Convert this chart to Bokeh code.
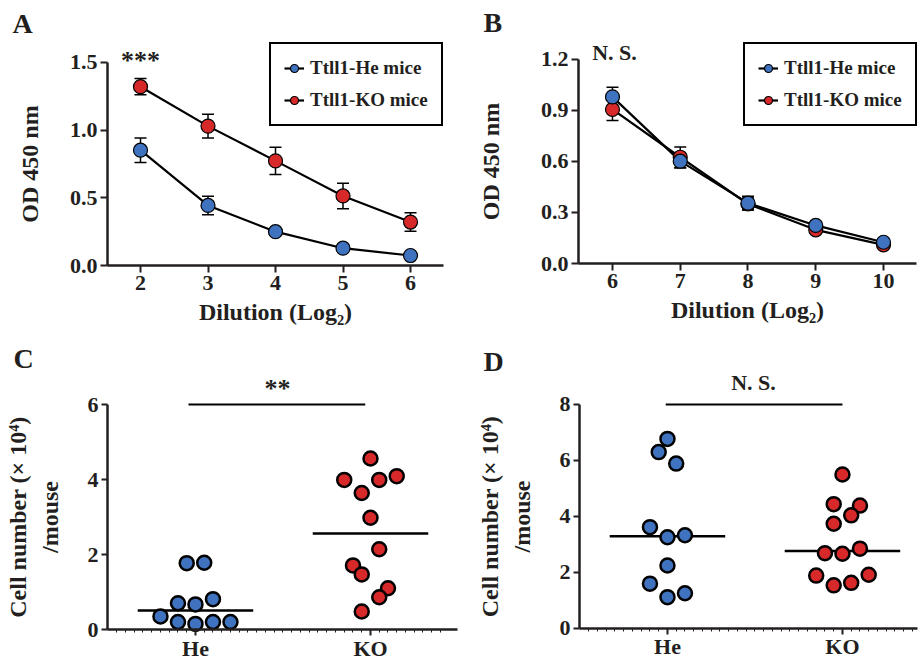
import numpy as np
from bokeh.plotting import figure
from bokeh.layouts import column, row
from bokeh.models import (ColumnDataSource, Whisker, TeeHead, Legend, LegendItem,
                          Label, FixedTicker, NumeralTickFormatter, Range1d)
from bokeh.embed import file_html
from bokeh.resources import INLINE

FONT = "Liberation Serif"
INK = "#231f20"
BLUE = "#3f73bf"
RED = "#d7292a"

# ---------------- data ----------------
# Panel A: ELISA, dilution 2..6 (log2)
dil_a = [2, 3, 4, 5, 6]
he_a = [0.852, 0.444, 0.250, 0.128, 0.074]
he_a_err = [0.090, 0.068, 0.015, 0.012, 0.010]
ko_a = [1.321, 1.030, 0.773, 0.514, 0.321]
ko_a_err = [0.060, 0.088, 0.100, 0.094, 0.068]

# Panel B: dilution 6..10 (log2)
dil_b = [6, 7, 8, 9, 10]
he_b = [0.980, 0.602, 0.355, 0.224, 0.125]
he_b_err = [0.057, 0.040, 0.040, 0.010, 0.008]
ko_b = [0.906, 0.625, 0.350, 0.198, 0.110]
ko_b_err = [0.065, 0.060, 0.035, 0.010, 0.008]

# Panel C: cell number (x10^4) / mouse
groups = ["He", "KO"]
he_c = [0.35, 0.70, 0.67, 0.81, 1.77, 1.78, 0.20, 0.15, 0.20, 0.20]
he_c_off = [-0.20, -0.10, 0.00, 0.10, -0.05, 0.05, -0.10, 0.00, 0.10, 0.20]
ko_c = [4.56, 3.99, 3.99, 4.09, 3.64, 2.98, 2.14, 1.71, 1.47, 1.10, 0.86, 0.48]
ko_c_off = [0.00, -0.15, 0.05, 0.15, -0.05, 0.00, 0.05, -0.10, -0.05, 0.10, 0.05, -0.05]

# Panel D
he_d = [6.77, 6.30, 5.89, 3.62, 3.26, 3.33, 2.25, 1.60, 1.12, 1.26]
he_d_off = [0.00, -0.05, 0.05, -0.10, 0.00, 0.10, 0.00, -0.10, 0.00, 0.10]
ko_d = [5.50, 4.44, 4.39, 4.04, 3.74, 2.69, 2.67, 2.85, 1.89, 1.54, 1.63, 1.92]
ko_d_off = [0.00, -0.05, 0.10, 0.05, -0.05, -0.10, 0.00, 0.10, -0.15, -0.05, 0.05, 0.15]

sig_a = "***"
sig_b = "N. S."
sig_c = "**"
sig_d = "N. S."
sig_span_c = (0.96, 1.97, 6.0)
sig_span_d = (0.99, 2.00, 8.0)

# ---------------- layout specs (page pixels) ----------------
SPEC = {
    "A": dict(fig=(0, 0, 468, 335), x=(-0.074, 6.859), y=(-0.517, 1.958),
              xaxis_at=0.0, yaxis_at=1.511, xbounds=(1.511, 6.489), ybounds=(0, 1.5)),
    "B": dict(fig=(468, 0, 452, 335), x=(3.875, 10.546), y=(-0.4235, 1.547),
              xaxis_at=0.0, yaxis_at=5.498, xbounds=(5.498, 10.487), ybounds=(0, 1.2)),
    "C": dict(fig=(0, 335, 468, 326), x=(-0.114, 2.560), y=(-0.853, 7.840),
              xaxis_at=0.0, yaxis_at=0.497, xbounds=(0.497, 2.497), ybounds=(0, 6)),
    "D": dict(fig=(468, 335, 452, 326), x=(-0.137, 2.446), y=(-1.179, 10.464),
              xaxis_at=0.0, yaxis_at=0.497, xbounds=(0.497, 2.429), ybounds=(0, 8)),
}
LABEL_SHIFT = 11  # px


def at(key, px, py):
    s = SPEC[key]
    fx, fy, w, h = s["fig"]
    x0, x1 = s["x"]
    y0, y1 = s["y"]
    return x0 + (px - fx) * (x1 - x0) / w, y1 - (py - fy) * (y1 - y0) / h


def make(key, ticks_x, ticks_y, xlabel, ylabel, tick_size):
    s = SPEC[key]
    fx, fy, w, h = s["fig"]
    p = figure(width=w, height=h, x_range=Range1d(*s["x"]), y_range=Range1d(*s["y"]),
               output_backend="svg", toolbar_location=None, title=None,
               min_border_left=0, min_border_right=0, min_border_top=0, min_border_bottom=0)
    p.outline_line_color = None
    p.xgrid.visible = False
    p.ygrid.visible = False
    p.border_fill_color = "white"
    for ax in (p.xaxis[0], p.yaxis[0]):
        ax.axis_line_width = 2.5
        ax.axis_line_color = INK
        ax.major_tick_line_width = 2
        ax.major_tick_line_color = INK
        ax.major_tick_in = 0
        ax.minor_tick_line_color = None
        ax.major_label_text_font = FONT
        ax.major_label_text_font_style = "bold"
        ax.major_label_text_font_size = tick_size
        ax.major_label_text_color = INK
        ax.axis_label_text_font = FONT
        ax.axis_label_text_font_style = "bold"
        ax.axis_label_text_font_size = "24px"
        ax.axis_label_text_color = INK
    p.xaxis[0].fixed_location = s["xaxis_at"]
    p.yaxis[0].fixed_location = s["yaxis_at"]
    p.xaxis[0].bounds = s["xbounds"]
    p.yaxis[0].bounds = s["ybounds"]
    p.xaxis[0].ticker = FixedTicker(ticks=ticks_x)
    p.yaxis[0].ticker = FixedTicker(ticks=ticks_y)
    p.xaxis[0].axis_label = xlabel
    p.yaxis[0].axis_label = ylabel
    return p


def label(p, key, text, px, py, size, align="left"):
    x, y = at(key, px, py - LABEL_SHIFT)
    p.add_layout(Label(x=x, y=y, text=text, text_font=FONT, text_font_style="bold",
                       text_font_size=size, text_color=INK, text_align=align,
                       text_baseline="alphabetic"))


def line_panel(key, dil, he, he_err, ko, ko_err, yticks, sig, sig_px, legend_xy, ylab_standoff):
    p = make(key, dil, yticks, "Dilution (Log\u2082)", "OD 450 nm", "22px")
    p.xaxis[0].major_tick_out = 7
    p.yaxis[0].major_tick_out = 7
    p.xaxis[0].major_label_standoff = 3
    p.yaxis[0].major_label_standoff = 3
    p.xaxis[0].axis_label_standoff = 6
    p.yaxis[0].axis_label_standoff = ylab_standoff
    p.yaxis[0].formatter = NumeralTickFormatter(format="0.0")
    rends = {}
    for name, vals, errs in (("KO", ko, ko_err), ("He", he, he_err)):
        v = np.array(vals)
        e = np.array(errs)
        src = ColumnDataSource(dict(x=dil, y=vals, lo=v - e, hi=v + e))
        p.add_layout(Whisker(source=src, base="x", lower="lo", upper="hi",
                             line_color="black", line_width=1.5,
                             lower_head=TeeHead(size=12, line_width=1.5, line_color="black"),
                             upper_head=TeeHead(size=12, line_width=1.5, line_color="black")))
        ln = p.line("x", "y", source=src, line_color="black", line_width=2.2)
        rends[name] = (ln, src)
    pts = {}
    for name, col in (("KO", RED), ("He", BLUE)):
        ln, src = rends[name]
        pts[name] = p.scatter("x", "y", source=src, size=14, fill_color=col,
                              line_color="black", line_width=1.2)
    legend = Legend(items=[
        LegendItem(label="Ttll1-He mice", renderers=[rends["He"][0], pts["He"]]),
        LegendItem(label="Ttll1-KO mice", renderers=[rends["KO"][0], pts["KO"]]),
    ], location=legend_xy, margin=0, padding=13, spacing=10,
        glyph_width=20, glyph_height=20, label_height=20, label_standoff=6,
        label_text_font=FONT, label_text_font_style="bold", label_text_font_size="19px",
        label_text_color=INK, border_line_color="black", border_line_width=2,
        border_line_alpha=1.0, background_fill_color="white", background_fill_alpha=1.0)
    p.add_layout(legend)
    label(p, key, sig, sig_px[0], sig_px[1], sig_px[2], "center")
    return p


def dot_panel(key, he, he_off, ko, ko_off, yticks, sig, span, sig_px):
    p = make(key, [1, 2], yticks, None,
             "Cell number (\u00d7 10\u2074)\n/mouse", "22px")
    xt = p.xaxis[0]
    xt.ticker = FixedTicker(ticks=[1, 2], minor_ticks=list(np.arange(0.55, 2.45, 0.05)))
    xt.major_label_overrides = {1: groups[0], 2: groups[1]}
    xt.major_tick_out = 6
    xt.minor_tick_line_color = INK
    xt.minor_tick_line_width = 1
    xt.minor_tick_out = 3
    xt.minor_tick_in = 0
    xt.major_label_standoff = 0
    p.yaxis[0].major_tick_out = 6
    p.yaxis[0].major_label_standoff = 3
    p.yaxis[0].axis_label_standoff = 22
    for gi, vals, offs, col in ((1, he, he_off, BLUE), (2, ko, ko_off, RED)):
        xs = [gi + o for o in offs]
        med = float(np.median(vals))
        p.segment(x0=[gi - 0.33], x1=[gi + 0.33], y0=[med], y1=[med],
                  line_color="black", line_width=2.5)
        p.scatter(xs, vals, size=14, fill_color=col, line_color="black", line_width=2.5)
    p.segment(x0=[span[0]], x1=[span[1]], y0=[span[2]], y1=[span[2]],
              line_color="black", line_width=2)
    label(p, key, sig, sig_px[0], sig_px[1], sig_px[2], "center")
    return p


pA = line_panel("A", dil_a, he_a, he_a_err, ko_a, ko_a_err,
                [0, 0.5, 1.0, 1.5], sig_a, (140, 71, "26px"), (269, 209), 24)
label(pA, "A", "A", 12, 34, "28px")

pB = line_panel("B", dil_b, he_b, he_b_err, ko_b, ko_b_err,
                [0, 0.3, 0.6, 0.9, 1.2], sig_b, (614, 63, "22px"), (275, 209), 34)
label(pB, "B", "B", 483, 33, "28px")

pC = dot_panel("C", he_c, he_c_off, ko_c, ko_c_off, [0, 2, 4, 6],
               sig_c, sig_span_c, (277, 399, "26px"))
label(pC, "C", "C", 13, 369, "28px")

pD = dot_panel("D", he_d, he_d_off, ko_d, ko_d_off, [0, 2, 4, 6, 8],
               sig_d, sig_span_d, (753, 393, "22px"))
label(pD, "D", "D", 483, 372, "28px")

layout = column(row(pA, pB), row(pC, pD))
open("out.html", "w").write(file_html(layout, INLINE))
